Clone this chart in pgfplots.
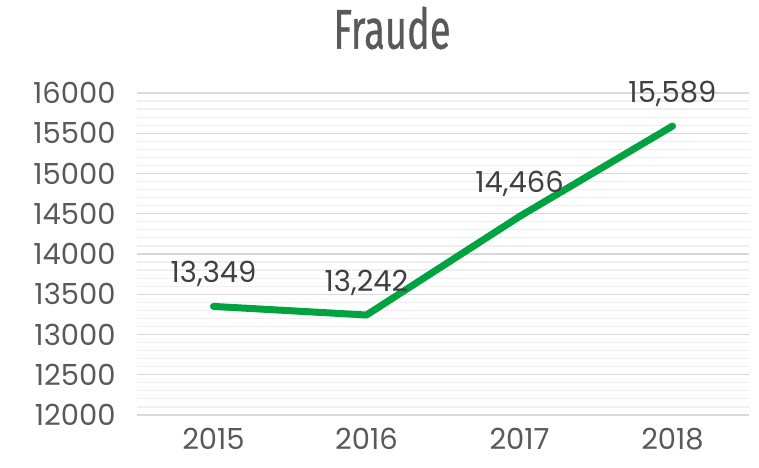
\documentclass[border=0pt]{standalone}
\usepackage{fontspec}
\setmainfont{Poppins}
\newfontfamily\titlefont[FakeStretch=0.68, FakeBold=0.6]{Fira Sans}
\usepackage{pgfplots}
\pgfplotsset{compat=1.18}
\definecolor{lineg}{HTML}{00A33F}
\definecolor{tickc}{HTML}{595959}
\definecolor{labc}{HTML}{404040}
\definecolor{majg}{HTML}{D9D9D9}
\definecolor{ming}{HTML}{EFEFEF}
\begin{document}
\begin{tikzpicture}
\useasboundingbox (0,0) rectangle (759bp,468bp);
\node[font=\titlefont\fontsize{56bp}{64bp}\selectfont, text=tickc] at (392bp,440bp) {Fraude};
\begin{axis}[
  at={(137bp,53bp)}, anchor=south west,
  scale only axis, width=612bp, height=322bp,
  xmin=-0.5, xmax=3.5, ymin=12000, ymax=16000,
  xtick={0,1,2,3}, xticklabels={2015,2016,2017,2018},
  ytick={12000,12500,...,16000},
  scaled y ticks=false,
  minor y tick num=4,
  ymajorgrids, yminorgrids,
  major grid style={majg, line width=1.2bp},
  minor grid style={ming, line width=1.2bp},
  axis line style={draw=none},
  major tick length=0pt, minor tick length=0pt,
  tick style={draw=none},
  /pgf/number format/assume math mode=true,
  y tick label style={/pgf/number format/fixed, /pgf/number format/1000 sep={}},
  ticklabel style={font=\fontsize{29bp}{32bp}\selectfont, text=tickc},
  yticklabel style={xshift=-18bp},
  xticklabel style={yshift=-10bp},
  clip=false,
  nodes near coords,
  nodes near coords style={font=\fontsize{29bp}{32bp}\selectfont, text=labc, anchor=south, yshift=13bp,
    /pgf/number format/assume math mode=true, /pgf/number format/1000 sep={,}},
]
\addplot[lineg, line width=7bp, line cap=round, line join=round, mark=none] coordinates {
  (0,13349) (1,13242) (2,14466) (3,15589)
};
\end{axis}
\end{tikzpicture}
\end{document}
